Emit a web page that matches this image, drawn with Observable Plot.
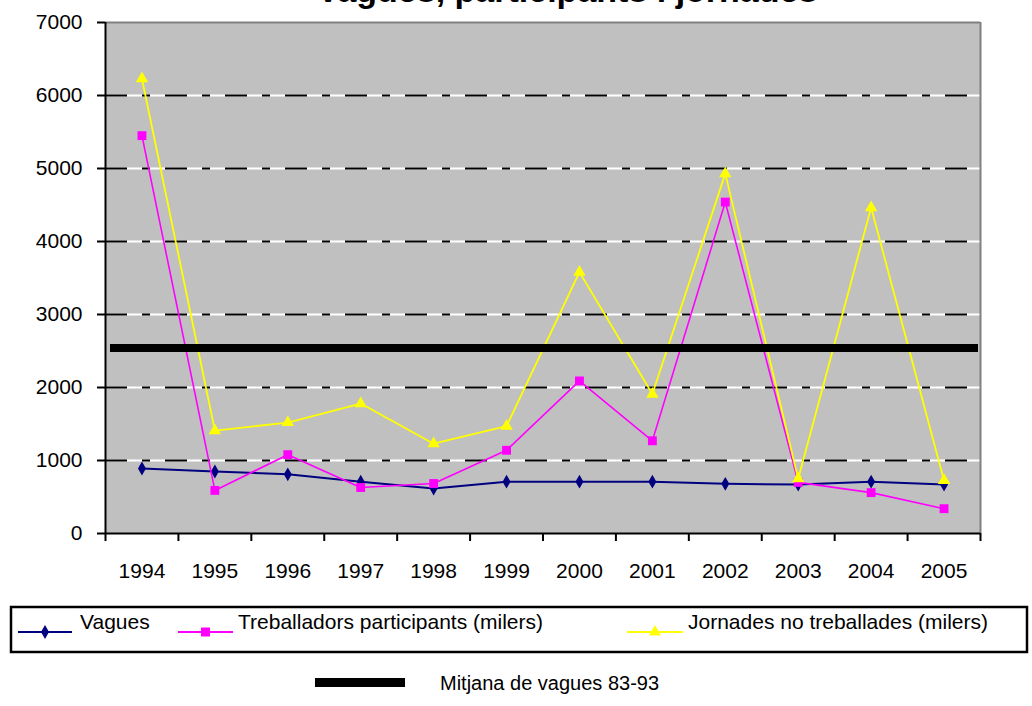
<!DOCTYPE html>
<html>
<head>
<meta charset="utf-8">
<script src="https://cdn.jsdelivr.net/npm/d3@7"></script>
<script src="https://cdn.jsdelivr.net/npm/@observablehq/plot@0.6"></script>
<style>
  html, body { margin: 0; padding: 0; background: #ffffff; }
  #wrap { position: relative; width: 1032px; height: 706px; overflow: hidden; font-family: "Liberation Sans", Arial, sans-serif; }
  #title { position: absolute; left: 0; width: 1134px; top: -27px; text-align: center; font-weight: bold; font-size: 34px; line-height: 34px; color: #000; white-space: nowrap; }
  #chart { position: absolute; left: 0; top: 0; }
  #legend { position: absolute; left: 0; top: 600px; }
</style>
</head>
<body>
<div id="wrap">
  <div id="title">Vagues, participants i jornades</div>
  <div id="chart"></div>
  <svg id="legend" width="1032" height="106"></svg>
</div>
<script>
const years = [1994, 1995, 1996, 1997, 1998, 1999, 2000, 2001, 2002, 2003, 2004, 2005];
const vagues = [890, 850, 810, 710, 615, 710, 710, 710, 680, 670, 710, 670];
const treballadors = [5450, 590, 1080, 630, 685, 1140, 2090, 1270, 4540, 700, 560, 340];
const jornades = [6230, 1410, 1520, 1780, 1230, 1470, 3580, 1910, 4930, 750, 4465, 726];
const mitjana = 2540;
const yTicks = [0, 1000, 2000, 3000, 4000, 5000, 6000, 7000];
const gridValues = [1000, 2000, 3000, 4000, 5000, 6000];
const seriesNames = ["Vagues", "Treballadors participants (milers)", "Jornades no treballades (milers)"];
const meanLabel = "Mitjana de vagues 83-93";

const colors = { v: "#000080", t: "#ff00ff", j: "#ffff00" };
const boundaries = d3.range(years.length + 1).map(i => years[0] - 0.5 + i);

const rows = (vals) => years.map((y, i) => ({ year: y, value: vals[i] }));
const dv = rows(vagues), dt = rows(treballadors), dj = rows(jornades);

const font = "'Liberation Sans', Arial, sans-serif";

const chart = Plot.plot({
  width: 1032,
  height: 590,
  marginLeft: 105,
  marginRight: 52,
  marginTop: 22,
  marginBottom: 57,
  x: { domain: [boundaries[0], boundaries[boundaries.length - 1]], axis: null, label: null },
  y: { domain: [0, 7000], axis: null, label: null },
  style: { fontFamily: font, background: "transparent", overflow: "visible", color: "#000" },
  marks: [
    Plot.frame({ fill: "#c0c0c0", stroke: null }),
    Plot.ruleY(gridValues, { stroke: "#ffffff", strokeWidth: 2 }),
    Plot.ruleY(gridValues, { stroke: "#000000", strokeWidth: 2, strokeDasharray: "22,15,8,15" }),
    Plot.ruleY([7000], { stroke: "#808080", strokeWidth: 2 }),
    Plot.ruleX([boundaries[boundaries.length - 1]], { stroke: "#808080", strokeWidth: 2 }),
    Plot.line(dv, { x: "year", y: "value", stroke: colors.v, strokeWidth: 2 }),
    Plot.dot(dv, { x: "year", y: "value", symbol: "diamond", r: 4.2, fill: colors.v, stroke: null }),
    Plot.line(dt, { x: "year", y: "value", stroke: colors.t, strokeWidth: 1.6 }),
    Plot.dot(dt, { x: "year", y: "value", symbol: "square", r: 5, fill: colors.t, stroke: null }),
    Plot.line(dj, { x: "year", y: "value", stroke: colors.j, strokeWidth: 1.8 }),
    Plot.dot(dj, { x: "year", y: "value", symbol: "triangle", r: 4.6, fill: colors.j, stroke: null }),
    Plot.ruleY([mitjana], { stroke: "#000000", strokeWidth: 8, insetLeft: 5, insetRight: 2 }),
    Plot.ruleX([boundaries[0]], { stroke: "#000000", strokeWidth: 2 }),
    Plot.ruleY([0], { stroke: "#000000", strokeWidth: 2 }),
    Plot.axisY(yTicks, { label: null, tickSize: 8, tickPadding: 15, fontSize: 21, strokeWidth: 2, tickFormat: d => String(d), fill: "#000" }),
    Plot.axisX(boundaries, { label: null, tickSize: 8, strokeWidth: 2, tickFormat: () => "" }),
    Plot.axisX(years, { label: null, tickSize: 0, tickPadding: 30, fontSize: 21, tickFormat: d => String(d), fill: "#000" })
  ]
});
document.getElementById("chart").appendChild(chart);

// Legend
const svg = d3.select("#legend");
const legY = 32; // relative to top 600
svg.append("rect").attr("x", 11).attr("y", 7).attr("width", 1016).attr("height", 45)
  .attr("fill", "#fff").attr("stroke", "#000").attr("stroke-width", 2.5);
const items = [
  { x0: 18, x1: 72, color: colors.v, sym: d3.symbolDiamond, size: 55, tx: 80, label: seriesNames[0] },
  { x0: 178, x1: 233, color: colors.t, sym: d3.symbolSquare, size: 81, tx: 238, label: seriesNames[1] },
  { x0: 627, x1: 683, color: colors.j, sym: d3.symbolTriangle, size: 62, tx: 688, label: seriesNames[2] }
];
items.forEach(it => {
  svg.append("line").attr("x1", it.x0).attr("x2", it.x1).attr("y1", legY).attr("y2", legY)
    .attr("stroke", it.color).attr("stroke-width", 2);
  svg.append("path").attr("d", d3.symbol(it.sym, it.size)())
    .attr("transform", `translate(${(it.x0 + it.x1) / 2},${legY})`).attr("fill", it.color);
  svg.append("text").attr("x", it.tx).attr("y", 29).attr("font-size", 21)
    .attr("font-family", font).attr("fill", "#000").text(it.label);
});
svg.append("rect").attr("x", 315).attr("y", 78).attr("width", 90).attr("height", 9).attr("fill", "#000");
svg.append("text").attr("x", 440).attr("y", 90).attr("font-size", 20)
  .attr("font-family", font).attr("fill", "#000").text(meanLabel);
</script>
</body>
</html>
